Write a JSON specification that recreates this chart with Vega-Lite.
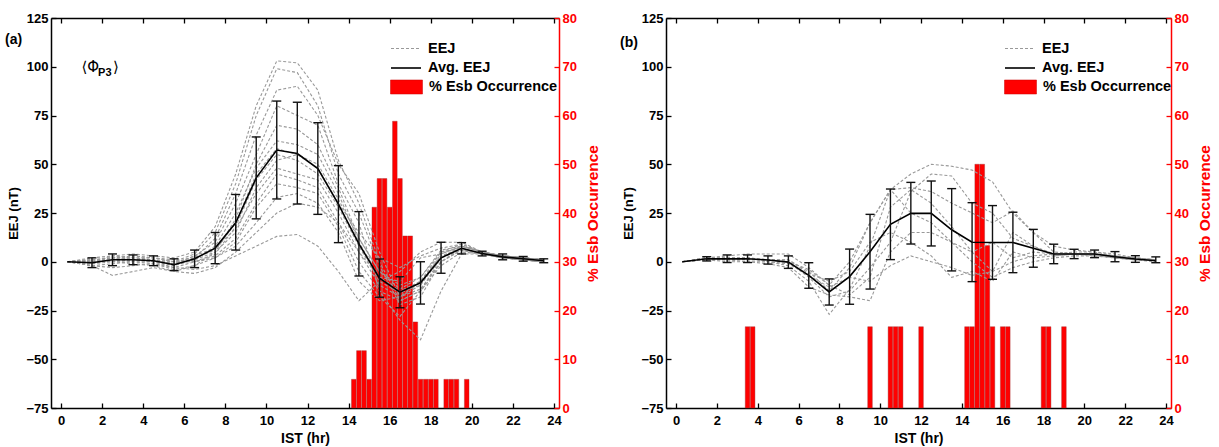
{
  "$schema": "https://vega.github.io/schema/vega-lite/v6.json",
  "background": "white",
  "padding": {"left": 5, "top": 12, "right": 5, "bottom": 5},
  "autosize": {"type": "pad"},
  "bounds": "flush",
  "spacing": 107,
  "config": {
    "font": "Liberation Sans",
    "view": {"stroke": null},
    "axis": {"grid": false, "labelFont": "Liberation Sans", "titleFont": "Liberation Sans", "labelOverlap": false, "labelFlush": false},
    "legend": {"labelFont": "Liberation Sans", "orient": "none", "title": null, "padding": 0, "labelFontSize": 14.5, "labelFontWeight": "bold", "labelColor": "black", "labelOffset": 6, "symbolOpacity": 1},
    "title": {"font": "Liberation Sans"}
  },
  "datasets": {
    "barA": [
      {"h":14.25,"p":5.88},{"h":14.5,"p":11.76},{"h":14.75,"p":11.76},{"h":15,"p":5.88},{"h":15.25,"p":41.18},{"h":15.5,"p":47.06},{"h":15.75,"p":47.06},{"h":16,"p":41.18},{"h":16.25,"p":58.82},{"h":16.5,"p":47.06},{"h":16.75,"p":35.29},{"h":17,"p":35.29},{"h":17.25,"p":17.65},{"h":17.5,"p":5.88},{"h":17.75,"p":5.88},{"h":18,"p":5.88},{"h":18.25,"p":5.88},{"h":18.75,"p":5.88},{"h":19,"p":5.88},{"h":19.25,"p":5.88},{"h":19.75,"p":5.88}
    ],
    "barB": [
      {"h":3.5,"p":16.67},{"h":3.75,"p":16.67},{"h":9.5,"p":16.67},{"h":10.5,"p":16.67},{"h":10.75,"p":16.67},{"h":11,"p":16.67},{"h":12,"p":16.67},{"h":14.25,"p":16.67},{"h":14.5,"p":16.67},{"h":14.75,"p":50},{"h":15,"p":50},{"h":15.25,"p":33.33},{"h":15.5,"p":16.67},{"h":16,"p":16.67},{"h":16.25,"p":16.67},{"h":18,"p":16.67},{"h":18.25,"p":16.67},{"h":19,"p":16.67}
    ],
    "avgA": [
      {"h":0.3,"v":0,"lo":null,"hi":null},{"h":1.5,"v":-0.5,"lo":-3,"hi":2},{"h":2.5,"v":1,"lo":-2,"hi":4},{"h":3.5,"v":1,"lo":-1.5,"hi":3.5},{"h":4.5,"v":0.5,"lo":-2,"hi":3},{"h":5.5,"v":-1.5,"lo":-4.5,"hi":1.5},{"h":6.5,"v":1.5,"lo":-3,"hi":6},{"h":7.5,"v":7,"lo":-1,"hi":15},{"h":8.5,"v":20,"lo":6,"hi":34.5},{"h":9.5,"v":43,"lo":22,"hi":64},{"h":10.5,"v":57.3,"lo":32.2,"hi":82.4},{"h":11.5,"v":55.5,"lo":29.6,"hi":81.8},{"h":12.5,"v":47.8,"lo":24.3,"hi":71.3},{"h":13.5,"v":29.5,"lo":9.8,"hi":49.3},{"h":14.5,"v":9.2,"lo":-7.3,"hi":25.7},{"h":15.5,"v":-8.4,"lo":-18.2,"hi":1.4},{"h":16.5,"v":-15.6,"lo":-23.6,"hi":-7.7},{"h":17.5,"v":-10.8,"lo":-21.7,"hi":0},{"h":18.5,"v":2,"lo":-5.9,"hi":10},{"h":19.5,"v":6.9,"lo":4,"hi":9.8},{"h":20.5,"v":4.2,"lo":3,"hi":5.4},{"h":21.5,"v":2.5,"lo":1,"hi":4},{"h":22.5,"v":1.5,"lo":0.3,"hi":2.7},{"h":23.5,"v":0.5,"lo":-0.5,"hi":1.5}
    ],
    "avgB": [
      {"h":0.3,"v":0,"lo":null,"hi":null},{"h":1.5,"v":1.5,"lo":0.4,"hi":2.6},{"h":2.5,"v":1.5,"lo":-0.4,"hi":3.5},{"h":3.5,"v":1.5,"lo":-0.4,"hi":3.5},{"h":4.5,"v":0.9,"lo":-1.2,"hi":3},{"h":5.5,"v":-0.2,"lo":-3.4,"hi":3},{"h":6.5,"v":-7,"lo":-13.6,"hi":-0.5},{"h":7.5,"v":-15.5,"lo":-22.2,"hi":-8.8},{"h":8.5,"v":-7.6,"lo":-21.8,"hi":6.5},{"h":9.5,"v":5.1,"lo":-14,"hi":24.3},{"h":10.5,"v":19.2,"lo":1.1,"hi":37.3},{"h":11.5,"v":24.9,"lo":9.1,"hi":40.7},{"h":12.5,"v":24.8,"lo":8.1,"hi":41.4},{"h":13.5,"v":16.4,"lo":-4.7,"hi":37.5},{"h":14.5,"v":10,"lo":-10.2,"hi":30.3},{"h":15.5,"v":9.9,"lo":-9,"hi":28.8},{"h":16.5,"v":9.9,"lo":-5.6,"hi":25.4},{"h":17.5,"v":6.9,"lo":-2.8,"hi":16.6},{"h":18.5,"v":4,"lo":-1,"hi":9},{"h":19.5,"v":4,"lo":1.6,"hi":6.4},{"h":20.5,"v":4,"lo":2.1,"hi":6},{"h":21.5,"v":2.6,"lo":0,"hi":5.2},{"h":22.5,"v":1.4,"lo":-0.3,"hi":3.1},{"h":23.5,"v":0.5,"lo":-0.5,"hi":2.5}
    ],
    "labelA": [
      {"h":0.99,"v":100,"t":"⟨Φ"},{"h":2.52,"v":100,"t":"⟩"}
    ],
    "subA": [
      {"h":1.8,"v":96.8,"t":"P3"}
    ],
    "eejA": [
      {"s":1,"h":0.3,"v":0},{"s":1,"h":1.5,"v":2},{"s":1,"h":2.5,"v":3},{"s":1,"h":3.5,"v":4},{"s":1,"h":4.5,"v":3},{"s":1,"h":5.5,"v":2},{"s":1,"h":6.5,"v":5},{"s":1,"h":7.5,"v":18},{"s":1,"h":8.5,"v":45},{"s":1,"h":9.5,"v":80},{"s":1,"h":10.5,"v":103},{"s":1,"h":11.5,"v":102},{"s":1,"h":12.5,"v":88},{"s":1,"h":13.5,"v":52},{"s":1,"h":14.5,"v":30},{"s":1,"h":15.5,"v":0},{"s":1,"h":16.5,"v":-20},{"s":1,"h":17.5,"v":-15},{"s":1,"h":18.5,"v":2},{"s":1,"h":19.5,"v":8},{"s":1,"h":20.5,"v":5},{"s":1,"h":21.5,"v":3},{"s":1,"h":22.5,"v":2},{"s":1,"h":23.5,"v":1},
      {"s":2,"h":0.3,"v":0},{"s":2,"h":1.5,"v":1},{"s":2,"h":2.5,"v":2},{"s":2,"h":3.5,"v":3},{"s":2,"h":4.5,"v":2},{"s":2,"h":5.5,"v":0},{"s":2,"h":6.5,"v":4},{"s":2,"h":7.5,"v":15},{"s":2,"h":8.5,"v":40},{"s":2,"h":9.5,"v":75},{"s":2,"h":10.5,"v":99},{"s":2,"h":11.5,"v":97},{"s":2,"h":12.5,"v":80},{"s":2,"h":13.5,"v":45},{"s":2,"h":14.5,"v":25},{"s":2,"h":15.5,"v":-2},{"s":2,"h":16.5,"v":-22},{"s":2,"h":17.5,"v":-18},{"s":2,"h":18.5,"v":0},{"s":2,"h":19.5,"v":7},{"s":2,"h":20.5,"v":4},{"s":2,"h":21.5,"v":3},{"s":2,"h":22.5,"v":2},{"s":2,"h":23.5,"v":0},
      {"s":3,"h":0.3,"v":0},{"s":3,"h":1.5,"v":-1},{"s":3,"h":2.5,"v":0},{"s":3,"h":3.5,"v":1},{"s":3,"h":4.5,"v":0},{"s":3,"h":5.5,"v":-2},{"s":3,"h":6.5,"v":2},{"s":3,"h":7.5,"v":12},{"s":3,"h":8.5,"v":35},{"s":3,"h":9.5,"v":65},{"s":3,"h":10.5,"v":88},{"s":3,"h":11.5,"v":90},{"s":3,"h":12.5,"v":75},{"s":3,"h":13.5,"v":50},{"s":3,"h":14.5,"v":35},{"s":3,"h":15.5,"v":5},{"s":3,"h":16.5,"v":-18},{"s":3,"h":17.5,"v":-12},{"s":3,"h":18.5,"v":4},{"s":3,"h":19.5,"v":8},{"s":3,"h":20.5,"v":5},{"s":3,"h":21.5,"v":2},{"s":3,"h":22.5,"v":1},{"s":3,"h":23.5,"v":0},
      {"s":4,"h":0.3,"v":0},{"s":4,"h":1.5,"v":0},{"s":4,"h":2.5,"v":1},{"s":4,"h":3.5,"v":2},{"s":4,"h":4.5,"v":1},{"s":4,"h":5.5,"v":-1},{"s":4,"h":6.5,"v":3},{"s":4,"h":7.5,"v":10},{"s":4,"h":8.5,"v":30},{"s":4,"h":9.5,"v":55},{"s":4,"h":10.5,"v":80},{"s":4,"h":11.5,"v":75},{"s":4,"h":12.5,"v":70},{"s":4,"h":13.5,"v":40},{"s":4,"h":14.5,"v":20},{"s":4,"h":15.5,"v":-15},{"s":4,"h":16.5,"v":-30},{"s":4,"h":17.5,"v":-40},{"s":4,"h":18.5,"v":-15},{"s":4,"h":19.5,"v":4},{"s":4,"h":20.5,"v":4},{"s":4,"h":21.5,"v":2},{"s":4,"h":22.5,"v":1},{"s":4,"h":23.5,"v":0},
      {"s":5,"h":0.3,"v":0},{"s":5,"h":1.5,"v":-2},{"s":5,"h":2.5,"v":-7},{"s":5,"h":3.5,"v":-5},{"s":5,"h":4.5,"v":-3},{"s":5,"h":5.5,"v":-5},{"s":5,"h":6.5,"v":-2},{"s":5,"h":7.5,"v":5},{"s":5,"h":8.5,"v":22},{"s":5,"h":9.5,"v":50},{"s":5,"h":10.5,"v":70},{"s":5,"h":11.5,"v":68},{"s":5,"h":12.5,"v":60},{"s":5,"h":13.5,"v":38},{"s":5,"h":14.5,"v":12},{"s":5,"h":15.5,"v":-5},{"s":5,"h":16.5,"v":-12},{"s":5,"h":17.5,"v":-8},{"s":5,"h":18.5,"v":5},{"s":5,"h":19.5,"v":9},{"s":5,"h":20.5,"v":5},{"s":5,"h":21.5,"v":3},{"s":5,"h":22.5,"v":2},{"s":5,"h":23.5,"v":1},
      {"s":6,"h":0.3,"v":0},{"s":6,"h":1.5,"v":1},{"s":6,"h":2.5,"v":2},{"s":6,"h":3.5,"v":2},{"s":6,"h":4.5,"v":1},{"s":6,"h":5.5,"v":-1},{"s":6,"h":6.5,"v":1},{"s":6,"h":7.5,"v":8},{"s":6,"h":8.5,"v":25},{"s":6,"h":9.5,"v":48},{"s":6,"h":10.5,"v":62},{"s":6,"h":11.5,"v":60},{"s":6,"h":12.5,"v":55},{"s":6,"h":13.5,"v":35},{"s":6,"h":14.5,"v":10},{"s":6,"h":15.5,"v":-8},{"s":6,"h":16.5,"v":-15},{"s":6,"h":17.5,"v":-10},{"s":6,"h":18.5,"v":3},{"s":6,"h":19.5,"v":7},{"s":6,"h":20.5,"v":4},{"s":6,"h":21.5,"v":2},{"s":6,"h":22.5,"v":1},{"s":6,"h":23.5,"v":0},
      {"s":7,"h":0.3,"v":0},{"s":7,"h":1.5,"v":0},{"s":7,"h":2.5,"v":3},{"s":7,"h":3.5,"v":2},{"s":7,"h":4.5,"v":2},{"s":7,"h":5.5,"v":0},{"s":7,"h":6.5,"v":2},{"s":7,"h":7.5,"v":6},{"s":7,"h":8.5,"v":20},{"s":7,"h":9.5,"v":45},{"s":7,"h":10.5,"v":58},{"s":7,"h":11.5,"v":55},{"s":7,"h":12.5,"v":50},{"s":7,"h":13.5,"v":32},{"s":7,"h":14.5,"v":12},{"s":7,"h":15.5,"v":-5},{"s":7,"h":16.5,"v":-14},{"s":7,"h":17.5,"v":-8},{"s":7,"h":18.5,"v":6},{"s":7,"h":19.5,"v":8},{"s":7,"h":20.5,"v":5},{"s":7,"h":21.5,"v":3},{"s":7,"h":22.5,"v":2},{"s":7,"h":23.5,"v":1},
      {"s":8,"h":0.3,"v":0},{"s":8,"h":1.5,"v":-1},{"s":8,"h":2.5,"v":1},{"s":8,"h":3.5,"v":0},{"s":8,"h":4.5,"v":0},{"s":8,"h":5.5,"v":-3},{"s":8,"h":6.5,"v":0},{"s":8,"h":7.5,"v":4},{"s":8,"h":8.5,"v":18},{"s":8,"h":9.5,"v":42},{"s":8,"h":10.5,"v":55},{"s":8,"h":11.5,"v":52},{"s":8,"h":12.5,"v":45},{"s":8,"h":13.5,"v":28},{"s":8,"h":14.5,"v":8},{"s":8,"h":15.5,"v":-10},{"s":8,"h":16.5,"v":-16},{"s":8,"h":17.5,"v":-12},{"s":8,"h":18.5,"v":2},{"s":8,"h":19.5,"v":6},{"s":8,"h":20.5,"v":4},{"s":8,"h":21.5,"v":2},{"s":8,"h":22.5,"v":1},{"s":8,"h":23.5,"v":0},
      {"s":9,"h":0.3,"v":0},{"s":9,"h":1.5,"v":1},{"s":9,"h":2.5,"v":0},{"s":9,"h":3.5,"v":1},{"s":9,"h":4.5,"v":1},{"s":9,"h":5.5,"v":-2},{"s":9,"h":6.5,"v":1},{"s":9,"h":7.5,"v":5},{"s":9,"h":8.5,"v":15},{"s":9,"h":9.5,"v":38},{"s":9,"h":10.5,"v":52},{"s":9,"h":11.5,"v":55},{"s":9,"h":12.5,"v":48},{"s":9,"h":13.5,"v":30},{"s":9,"h":14.5,"v":15},{"s":9,"h":15.5,"v":2},{"s":9,"h":16.5,"v":-3},{"s":9,"h":17.5,"v":3},{"s":9,"h":18.5,"v":7},{"s":9,"h":19.5,"v":9},{"s":9,"h":20.5,"v":5},{"s":9,"h":21.5,"v":3},{"s":9,"h":22.5,"v":2},{"s":9,"h":23.5,"v":1},
      {"s":10,"h":0.3,"v":0},{"s":10,"h":1.5,"v":-1},{"s":10,"h":2.5,"v":2},{"s":10,"h":3.5,"v":1},{"s":10,"h":4.5,"v":0},{"s":10,"h":5.5,"v":-1},{"s":10,"h":6.5,"v":3},{"s":10,"h":7.5,"v":7},{"s":10,"h":8.5,"v":17},{"s":10,"h":9.5,"v":35},{"s":10,"h":10.5,"v":48},{"s":10,"h":11.5,"v":45},{"s":10,"h":12.5,"v":42},{"s":10,"h":13.5,"v":25},{"s":10,"h":14.5,"v":5},{"s":10,"h":15.5,"v":-12},{"s":10,"h":16.5,"v":-18},{"s":10,"h":17.5,"v":-14},{"s":10,"h":18.5,"v":0},{"s":10,"h":19.5,"v":6},{"s":10,"h":20.5,"v":4},{"s":10,"h":21.5,"v":2},{"s":10,"h":22.5,"v":1},{"s":10,"h":23.5,"v":0},
      {"s":11,"h":0.3,"v":0},{"s":11,"h":1.5,"v":0},{"s":11,"h":2.5,"v":1},{"s":11,"h":3.5,"v":1},{"s":11,"h":4.5,"v":1},{"s":11,"h":5.5,"v":0},{"s":11,"h":6.5,"v":0},{"s":11,"h":7.5,"v":3},{"s":11,"h":8.5,"v":12},{"s":11,"h":9.5,"v":30},{"s":11,"h":10.5,"v":45},{"s":11,"h":11.5,"v":42},{"s":11,"h":12.5,"v":38},{"s":11,"h":13.5,"v":20},{"s":11,"h":14.5,"v":0},{"s":11,"h":15.5,"v":-15},{"s":11,"h":16.5,"v":-20},{"s":11,"h":17.5,"v":-15},{"s":11,"h":18.5,"v":-2},{"s":11,"h":19.5,"v":5},{"s":11,"h":20.5,"v":4},{"s":11,"h":21.5,"v":2},{"s":11,"h":22.5,"v":1},{"s":11,"h":23.5,"v":0},
      {"s":12,"h":0.3,"v":0},{"s":12,"h":1.5,"v":-2},{"s":12,"h":2.5,"v":-1},{"s":12,"h":3.5,"v":0},{"s":12,"h":4.5,"v":-1},{"s":12,"h":5.5,"v":-4},{"s":12,"h":6.5,"v":-2},{"s":12,"h":7.5,"v":2},{"s":12,"h":8.5,"v":10},{"s":12,"h":9.5,"v":28},{"s":12,"h":10.5,"v":40},{"s":12,"h":11.5,"v":38},{"s":12,"h":12.5,"v":35},{"s":12,"h":13.5,"v":18},{"s":12,"h":14.5,"v":-5},{"s":12,"h":15.5,"v":-18},{"s":12,"h":16.5,"v":-28},{"s":12,"h":17.5,"v":-15},{"s":12,"h":18.5,"v":0},{"s":12,"h":19.5,"v":6},{"s":12,"h":20.5,"v":4},{"s":12,"h":21.5,"v":2},{"s":12,"h":22.5,"v":1},{"s":12,"h":23.5,"v":0},
      {"s":13,"h":0.3,"v":0},{"s":13,"h":1.5,"v":0},{"s":13,"h":2.5,"v":2},{"s":13,"h":3.5,"v":3},{"s":13,"h":4.5,"v":2},{"s":13,"h":5.5,"v":1},{"s":13,"h":6.5,"v":0},{"s":13,"h":7.5,"v":2},{"s":13,"h":8.5,"v":8},{"s":13,"h":9.5,"v":20},{"s":13,"h":10.5,"v":33},{"s":13,"h":11.5,"v":35},{"s":13,"h":12.5,"v":30},{"s":13,"h":13.5,"v":15},{"s":13,"h":14.5,"v":-10},{"s":13,"h":15.5,"v":-20},{"s":13,"h":16.5,"v":-18},{"s":13,"h":17.5,"v":-10},{"s":13,"h":18.5,"v":5},{"s":13,"h":19.5,"v":7},{"s":13,"h":20.5,"v":4},{"s":13,"h":21.5,"v":3},{"s":13,"h":22.5,"v":2},{"s":13,"h":23.5,"v":1},
      {"s":14,"h":0.3,"v":0},{"s":14,"h":1.5,"v":1},{"s":14,"h":2.5,"v":0},{"s":14,"h":3.5,"v":-1},{"s":14,"h":4.5,"v":-2},{"s":14,"h":5.5,"v":-5},{"s":14,"h":6.5,"v":-6},{"s":14,"h":7.5,"v":-3},{"s":14,"h":8.5,"v":5},{"s":14,"h":9.5,"v":15},{"s":14,"h":10.5,"v":25},{"s":14,"h":11.5,"v":30},{"s":14,"h":12.5,"v":28},{"s":14,"h":13.5,"v":20},{"s":14,"h":14.5,"v":5},{"s":14,"h":15.5,"v":-8},{"s":14,"h":16.5,"v":-10},{"s":14,"h":17.5,"v":2},{"s":14,"h":18.5,"v":4},{"s":14,"h":19.5,"v":8},{"s":14,"h":20.5,"v":5},{"s":14,"h":21.5,"v":3},{"s":14,"h":22.5,"v":2},{"s":14,"h":23.5,"v":1},
      {"s":15,"h":0.3,"v":0},{"s":15,"h":1.5,"v":-2},{"s":15,"h":2.5,"v":-3},{"s":15,"h":3.5,"v":-2},{"s":15,"h":4.5,"v":-1},{"s":15,"h":5.5,"v":-3},{"s":15,"h":6.5,"v":-4},{"s":15,"h":7.5,"v":-2},{"s":15,"h":8.5,"v":3},{"s":15,"h":9.5,"v":8},{"s":15,"h":10.5,"v":13},{"s":15,"h":11.5,"v":14},{"s":15,"h":12.5,"v":8},{"s":15,"h":13.5,"v":-5},{"s":15,"h":14.5,"v":-20},{"s":15,"h":15.5,"v":-10},{"s":15,"h":16.5,"v":-5},{"s":15,"h":17.5,"v":5},{"s":15,"h":18.5,"v":10},{"s":15,"h":19.5,"v":10},{"s":15,"h":20.5,"v":5},{"s":15,"h":21.5,"v":3},{"s":15,"h":22.5,"v":2},{"s":15,"h":23.5,"v":1}
    ],
    "eejB": [
      {"s":1,"h":0.3,"v":0},{"s":1,"h":1.5,"v":2},{"s":1,"h":2.5,"v":3},{"s":1,"h":3.5,"v":4},{"s":1,"h":4.5,"v":4},{"s":1,"h":5.5,"v":4},{"s":1,"h":6.5,"v":-3},{"s":1,"h":7.5,"v":-12},{"s":1,"h":8.5,"v":0},{"s":1,"h":9.5,"v":20},{"s":1,"h":10.5,"v":37},{"s":1,"h":11.5,"v":45},{"s":1,"h":12.5,"v":50},{"s":1,"h":13.5,"v":49},{"s":1,"h":14.5,"v":47},{"s":1,"h":15.5,"v":41},{"s":1,"h":16.5,"v":25},{"s":1,"h":17.5,"v":15},{"s":1,"h":18.5,"v":8},{"s":1,"h":19.5,"v":6},{"s":1,"h":20.5,"v":5},{"s":1,"h":21.5,"v":4},{"s":1,"h":22.5,"v":2},{"s":1,"h":23.5,"v":1},
      {"s":2,"h":0.3,"v":0},{"s":2,"h":1.5,"v":1},{"s":2,"h":2.5,"v":2},{"s":2,"h":3.5,"v":2},{"s":2,"h":4.5,"v":1},{"s":2,"h":5.5,"v":0},{"s":2,"h":6.5,"v":-8},{"s":2,"h":7.5,"v":-18},{"s":2,"h":8.5,"v":-15},{"s":2,"h":9.5,"v":-3},{"s":2,"h":10.5,"v":10},{"s":2,"h":11.5,"v":36},{"s":2,"h":12.5,"v":45},{"s":2,"h":13.5,"v":44},{"s":2,"h":14.5,"v":30},{"s":2,"h":15.5,"v":25},{"s":2,"h":16.5,"v":12},{"s":2,"h":17.5,"v":8},{"s":2,"h":18.5,"v":4},{"s":2,"h":19.5,"v":4},{"s":2,"h":20.5,"v":4},{"s":2,"h":21.5,"v":3},{"s":2,"h":22.5,"v":1},{"s":2,"h":23.5,"v":1},
      {"s":3,"h":0.3,"v":0},{"s":3,"h":1.5,"v":2},{"s":3,"h":2.5,"v":1},{"s":3,"h":3.5,"v":2},{"s":3,"h":4.5,"v":0},{"s":3,"h":5.5,"v":-2},{"s":3,"h":6.5,"v":-10},{"s":3,"h":7.5,"v":-27},{"s":3,"h":8.5,"v":-14},{"s":3,"h":9.5,"v":8},{"s":3,"h":10.5,"v":37},{"s":3,"h":11.5,"v":38},{"s":3,"h":12.5,"v":36},{"s":3,"h":13.5,"v":30},{"s":3,"h":14.5,"v":25},{"s":3,"h":15.5,"v":20},{"s":3,"h":16.5,"v":26},{"s":3,"h":17.5,"v":15},{"s":3,"h":18.5,"v":5},{"s":3,"h":19.5,"v":4},{"s":3,"h":20.5,"v":4},{"s":3,"h":21.5,"v":2},{"s":3,"h":22.5,"v":1},{"s":3,"h":23.5,"v":1},
      {"s":4,"h":0.3,"v":0},{"s":4,"h":1.5,"v":1},{"s":4,"h":2.5,"v":0},{"s":4,"h":3.5,"v":0},{"s":4,"h":4.5,"v":-1},{"s":4,"h":5.5,"v":-3},{"s":4,"h":6.5,"v":-13},{"s":4,"h":7.5,"v":-17},{"s":4,"h":8.5,"v":-18},{"s":4,"h":9.5,"v":-20},{"s":4,"h":10.5,"v":5},{"s":4,"h":11.5,"v":15},{"s":4,"h":12.5,"v":15},{"s":4,"h":13.5,"v":10},{"s":4,"h":14.5,"v":5},{"s":4,"h":15.5,"v":-5},{"s":4,"h":16.5,"v":15},{"s":4,"h":17.5,"v":8},{"s":4,"h":18.5,"v":3},{"s":4,"h":19.5,"v":4},{"s":4,"h":20.5,"v":3},{"s":4,"h":21.5,"v":2},{"s":4,"h":22.5,"v":1},{"s":4,"h":23.5,"v":0},
      {"s":5,"h":0.3,"v":0},{"s":5,"h":1.5,"v":1},{"s":5,"h":2.5,"v":1},{"s":5,"h":3.5,"v":1},{"s":5,"h":4.5,"v":1},{"s":5,"h":5.5,"v":1},{"s":5,"h":6.5,"v":-5},{"s":5,"h":7.5,"v":-15},{"s":5,"h":8.5,"v":-3},{"s":5,"h":9.5,"v":20},{"s":5,"h":10.5,"v":37},{"s":5,"h":11.5,"v":25},{"s":5,"h":12.5,"v":20},{"s":5,"h":13.5,"v":10},{"s":5,"h":14.5,"v":0},{"s":5,"h":15.5,"v":-8},{"s":5,"h":16.5,"v":-3},{"s":5,"h":17.5,"v":0},{"s":5,"h":18.5,"v":2},{"s":5,"h":19.5,"v":3},{"s":5,"h":20.5,"v":3},{"s":5,"h":21.5,"v":2},{"s":5,"h":22.5,"v":1},{"s":5,"h":23.5,"v":1},
      {"s":6,"h":0.3,"v":0},{"s":6,"h":1.5,"v":2},{"s":6,"h":2.5,"v":2},{"s":6,"h":3.5,"v":1},{"s":6,"h":4.5,"v":1},{"s":6,"h":5.5,"v":0},{"s":6,"h":6.5,"v":-4},{"s":6,"h":7.5,"v":-12},{"s":6,"h":8.5,"v":-17},{"s":6,"h":9.5,"v":-8},{"s":6,"h":10.5,"v":28},{"s":6,"h":11.5,"v":37},{"s":6,"h":12.5,"v":30},{"s":6,"h":13.5,"v":18},{"s":6,"h":14.5,"v":5},{"s":6,"h":15.5,"v":10},{"s":6,"h":16.5,"v":2},{"s":6,"h":17.5,"v":5},{"s":6,"h":18.5,"v":4},{"s":6,"h":19.5,"v":4},{"s":6,"h":20.5,"v":4},{"s":6,"h":21.5,"v":3},{"s":6,"h":22.5,"v":2},{"s":6,"h":23.5,"v":1},
      {"s":7,"h":0.3,"v":0},{"s":7,"h":1.5,"v":2},{"s":7,"h":2.5,"v":2},{"s":7,"h":3.5,"v":2},{"s":7,"h":4.5,"v":1},{"s":7,"h":5.5,"v":1},{"s":7,"h":6.5,"v":-6},{"s":7,"h":7.5,"v":-10},{"s":7,"h":8.5,"v":-5},{"s":7,"h":9.5,"v":10},{"s":7,"h":10.5,"v":15},{"s":7,"h":11.5,"v":10},{"s":7,"h":12.5,"v":3},{"s":7,"h":13.5,"v":-8},{"s":7,"h":14.5,"v":-5},{"s":7,"h":15.5,"v":-10},{"s":7,"h":16.5,"v":5},{"s":7,"h":17.5,"v":2},{"s":7,"h":18.5,"v":3},{"s":7,"h":19.5,"v":4},{"s":7,"h":20.5,"v":4},{"s":7,"h":21.5,"v":2},{"s":7,"h":22.5,"v":1},{"s":7,"h":23.5,"v":1},
      {"s":8,"h":0.3,"v":0},{"s":8,"h":1.5,"v":1},{"s":8,"h":2.5,"v":1},{"s":8,"h":3.5,"v":0},{"s":8,"h":4.5,"v":0},{"s":8,"h":5.5,"v":-1},{"s":8,"h":6.5,"v":-7},{"s":8,"h":7.5,"v":-13},{"s":8,"h":8.5,"v":-8},{"s":8,"h":9.5,"v":-10},{"s":8,"h":10.5,"v":-2},{"s":8,"h":11.5,"v":3},{"s":8,"h":12.5,"v":0},{"s":8,"h":13.5,"v":-3},{"s":8,"h":14.5,"v":-7},{"s":8,"h":15.5,"v":-5},{"s":8,"h":16.5,"v":0},{"s":8,"h":17.5,"v":3},{"s":8,"h":18.5,"v":4},{"s":8,"h":19.5,"v":5},{"s":8,"h":20.5,"v":5},{"s":8,"h":21.5,"v":3},{"s":8,"h":22.5,"v":2},{"s":8,"h":23.5,"v":1}
    ]
  },
  "resolve": {"legend": {"fill": "independent", "stroke": "independent", "strokeDash": "independent"}},
  "hconcat": [
    {
      "width": 508,
      "height": 390,
      "title": {"text": "(a)", "anchor": "start", "frame": "group", "orient": "top", "offset": 0, "dx": -46, "dy": 42, "baseline": "middle", "fontSize": 14, "fontWeight": "bold", "color": "black"},
      "layer": [
        {
          "data": {"name": "barA"},
          "mark": {"type": "bar", "width": 4.6, "stroke": "#9a3030", "strokeWidth": 0.4},
          "encoding": {
            "x": {"field": "h", "type": "quantitative", "scale": {"domain": [-0.25, 24], "nice": false, "zero": false},
              "axis": {"orient": "top", "values": [0,2,4,6,8,10,12,14,16,18,20,22,24], "labels": false, "title": null, "tickSize": -5, "tickColor": "black", "tickWidth": 1.3, "domainColor": "black", "domainWidth": 1.5}},
            "y": {"field": "p", "type": "quantitative", "scale": {"domain": [0, 80], "nice": false, "zero": false},
              "axis": {"orient": "right", "values": [0,10,20,30,40,50,60,70,80], "title": "% Esb Occurrence", "titleAngle": 270, "titleBaseline": "top", "titleColor": "#ff0000", "titleFontSize": 15.5, "titleFontWeight": "bold", "titlePadding": 9, "labelColor": "#ff0000", "labelFontSize": 13, "labelFontWeight": "bold", "labelPadding": 8, "tickSize": -5, "tickColor": "#ff0000", "tickWidth": 1.3, "domainColor": "#ff0000", "domainWidth": 1.5}},
            "fill": {"datum": "% Esb Occurrence", "type": "nominal",
              "scale": {"domain": ["% Esb Occurrence"], "range": ["#ff0000"]},
              "legend": {"legendX": 339, "legendY": 52.5, "symbolType": "M-1,-0.44H1V0.44H-1Z", "symbolSize": 1024, "symbolStrokeColor": "#cc0000", "symbolStrokeWidth": 0.5, "symbolFillColor": "#ff0000"}}
          }
        },
        {
          "layer": [
            {
              "data": {"name": "eejA"},
              "mark": {"type": "line", "color": "#999999", "strokeWidth": 1.1},
              "encoding": {
                "x": {"field": "h", "type": "quantitative", "scale": {"domain": [-0.25, 24], "nice": false, "zero": false},
                  "axis": {"orient": "bottom", "values": [0,2,4,6,8,10,12,14,16,18,20,22,24], "title": "IST (hr)", "titleFontSize": 14, "titleFontWeight": "bold", "titleColor": "black", "titlePadding": 4, "labelFontSize": 13, "labelFontWeight": "bold", "labelColor": "black", "labelPadding": 11, "tickSize": -5, "tickColor": "black", "tickWidth": 1.3, "domainColor": "black", "domainWidth": 1.5}},
                "y": {"field": "v", "type": "quantitative", "scale": {"domain": [-75, 125], "nice": false, "zero": false},
                  "axis": {"orient": "left", "values": [-75,-50,-25,0,25,50,75,100,125], "title": "EEJ (nT)", "titleFontSize": 13, "titleFontWeight": "bold", "titleColor": "black", "titlePadding": 5, "labelFontSize": 13, "labelFontWeight": "bold", "labelColor": "black", "labelPadding": 8, "tickSize": -5, "tickColor": "black", "tickWidth": 1.3, "domainColor": "black", "domainWidth": 1.5}},
                "detail": {"field": "s", "type": "nominal"},
                "strokeDash": {"datum": "EEJ", "type": "nominal", "scale": {"domain": ["EEJ"], "range": [[3, 2]]},
                  "legend": {"legendX": 339, "legendY": 14.5, "symbolType": "stroke", "symbolSize": 900, "symbolStrokeColor": "#999999", "symbolStrokeWidth": 1.1}}
              }
            },
            {
              "data": {"name": "avgA"},
              "mark": {"type": "line", "strokeWidth": 1.6},
              "encoding": {
                "x": {"field": "h", "type": "quantitative"},
                "y": {"field": "v", "type": "quantitative"},
                "stroke": {"datum": "Avg. EEJ", "type": "nominal", "scale": {"domain": ["Avg. EEJ"], "range": ["#000000"]},
                  "legend": {"legendX": 339, "legendY": 34, "symbolType": "stroke", "symbolSize": 900, "symbolStrokeWidth": 1.6}}
              }
            },
            {
              "data": {"name": "avgA"},
              "transform": [{"filter": "isValid(datum.lo)"}],
              "mark": {"type": "rule", "color": "#111111", "strokeWidth": 1.4},
              "encoding": {
                "x": {"field": "h", "type": "quantitative"},
                "y": {"field": "lo", "type": "quantitative"},
                "y2": {"field": "hi"}
              }
            },
            {
              "data": {"name": "avgA"},
              "transform": [{"filter": "isValid(datum.lo)"}],
              "mark": {"type": "tick", "orient": "horizontal", "size": 9, "thickness": 1.4, "color": "#111111", "opacity": 1},
              "encoding": {
                "x": {"field": "h", "type": "quantitative"},
                "y": {"field": "lo", "type": "quantitative"}
              }
            },
            {
              "data": {"name": "avgA"},
              "transform": [{"filter": "isValid(datum.hi)"}],
              "mark": {"type": "tick", "orient": "horizontal", "size": 9, "thickness": 1.4, "color": "#111111", "opacity": 1},
              "encoding": {
                "x": {"field": "h", "type": "quantitative"},
                "y": {"field": "hi", "type": "quantitative"}
              }
            },
            {
              "data": {"name": "labelA"},
              "mark": {"type": "text", "align": "left", "baseline": "middle", "fontSize": 15, "font": "DejaVu Sans", "color": "black"},
              "encoding": {
                "x": {"field": "h", "type": "quantitative"},
                "y": {"field": "v", "type": "quantitative"},
                "text": {"field": "t"}
              }
            },
            {
              "data": {"name": "subA"},
              "mark": {"type": "text", "align": "left", "baseline": "middle", "fontSize": 11, "fontWeight": "bold", "color": "black"},
              "encoding": {
                "x": {"field": "h", "type": "quantitative"},
                "y": {"field": "v", "type": "quantitative"},
                "text": {"field": "t"}
              }
            }
          ]
        }
      ],
      "resolve": {"scale": {"y": "independent"}, "axis": {"x": "independent"}}
    },
    {
      "width": 505,
      "height": 390,
      "title": {"text": "(b)", "anchor": "start", "frame": "group", "orient": "top", "offset": 0, "dx": -46, "dy": 45, "baseline": "middle", "fontSize": 14, "fontWeight": "bold", "color": "black"},
      "layer": [
        {
          "data": {"name": "barB"},
          "mark": {"type": "bar", "width": 4.6, "stroke": "#9a3030", "strokeWidth": 0.4},
          "encoding": {
            "x": {"field": "h", "type": "quantitative", "scale": {"domain": [-0.25, 24], "nice": false, "zero": false},
              "axis": {"orient": "top", "values": [0,2,4,6,8,10,12,14,16,18,20,22,24], "labels": false, "title": null, "tickSize": -5, "tickColor": "black", "tickWidth": 1.3, "domainColor": "black", "domainWidth": 1.5}},
            "y": {"field": "p", "type": "quantitative", "scale": {"domain": [0, 80], "nice": false, "zero": false},
              "axis": {"orient": "right", "values": [0,10,20,30,40,50,60,70,80], "title": "% Esb Occurrence", "titleAngle": 270, "titleBaseline": "top", "titleColor": "#ff0000", "titleFontSize": 15.5, "titleFontWeight": "bold", "titlePadding": 9, "labelColor": "#ff0000", "labelFontSize": 13, "labelFontWeight": "bold", "labelPadding": 8, "tickSize": -5, "tickColor": "#ff0000", "tickWidth": 1.3, "domainColor": "#ff0000", "domainWidth": 1.5}},
            "fill": {"datum": "% Esb Occurrence", "type": "nominal",
              "scale": {"domain": ["% Esb Occurrence"], "range": ["#ff0000"]},
              "legend": {"legendX": 338, "legendY": 52.5, "symbolType": "M-1,-0.44H1V0.44H-1Z", "symbolSize": 1024, "symbolStrokeColor": "#cc0000", "symbolStrokeWidth": 0.5, "symbolFillColor": "#ff0000"}}
          }
        },
        {
          "layer": [
            {
              "data": {"name": "eejB"},
              "mark": {"type": "line", "color": "#999999", "strokeWidth": 1.1},
              "encoding": {
                "x": {"field": "h", "type": "quantitative", "scale": {"domain": [-0.25, 24], "nice": false, "zero": false},
                  "axis": {"orient": "bottom", "values": [0,2,4,6,8,10,12,14,16,18,20,22,24], "title": "IST (hr)", "titleFontSize": 14, "titleFontWeight": "bold", "titleColor": "black", "titlePadding": 4, "labelFontSize": 13, "labelFontWeight": "bold", "labelColor": "black", "labelPadding": 11, "tickSize": -5, "tickColor": "black", "tickWidth": 1.3, "domainColor": "black", "domainWidth": 1.5}},
                "y": {"field": "v", "type": "quantitative", "scale": {"domain": [-75, 125], "nice": false, "zero": false},
                  "axis": {"orient": "left", "values": [-75,-50,-25,0,25,50,75,100,125], "title": "EEJ (nT)", "titleFontSize": 13, "titleFontWeight": "bold", "titleColor": "black", "titlePadding": 5, "labelFontSize": 13, "labelFontWeight": "bold", "labelColor": "black", "labelPadding": 8, "tickSize": -5, "tickColor": "black", "tickWidth": 1.3, "domainColor": "black", "domainWidth": 1.5}},
                "detail": {"field": "s", "type": "nominal"},
                "strokeDash": {"datum": "EEJ", "type": "nominal", "scale": {"domain": ["EEJ"], "range": [[3, 2]]},
                  "legend": {"legendX": 338, "legendY": 14.5, "symbolType": "stroke", "symbolSize": 900, "symbolStrokeColor": "#999999", "symbolStrokeWidth": 1.1}}
              }
            },
            {
              "data": {"name": "avgB"},
              "mark": {"type": "line", "strokeWidth": 1.6},
              "encoding": {
                "x": {"field": "h", "type": "quantitative"},
                "y": {"field": "v", "type": "quantitative"},
                "stroke": {"datum": "Avg. EEJ", "type": "nominal", "scale": {"domain": ["Avg. EEJ"], "range": ["#000000"]},
                  "legend": {"legendX": 338, "legendY": 34, "symbolType": "stroke", "symbolSize": 900, "symbolStrokeWidth": 1.6}}
              }
            },
            {
              "data": {"name": "avgB"},
              "transform": [{"filter": "isValid(datum.lo)"}],
              "mark": {"type": "rule", "color": "#111111", "strokeWidth": 1.4},
              "encoding": {
                "x": {"field": "h", "type": "quantitative"},
                "y": {"field": "lo", "type": "quantitative"},
                "y2": {"field": "hi"}
              }
            },
            {
              "data": {"name": "avgB"},
              "transform": [{"filter": "isValid(datum.lo)"}],
              "mark": {"type": "tick", "orient": "horizontal", "size": 9, "thickness": 1.4, "color": "#111111", "opacity": 1},
              "encoding": {
                "x": {"field": "h", "type": "quantitative"},
                "y": {"field": "lo", "type": "quantitative"}
              }
            },
            {
              "data": {"name": "avgB"},
              "transform": [{"filter": "isValid(datum.hi)"}],
              "mark": {"type": "tick", "orient": "horizontal", "size": 9, "thickness": 1.4, "color": "#111111", "opacity": 1},
              "encoding": {
                "x": {"field": "h", "type": "quantitative"},
                "y": {"field": "hi", "type": "quantitative"}
              }
            }
          ]
        }
      ],
      "resolve": {"scale": {"y": "independent"}, "axis": {"x": "independent"}}
    }
  ]
}
